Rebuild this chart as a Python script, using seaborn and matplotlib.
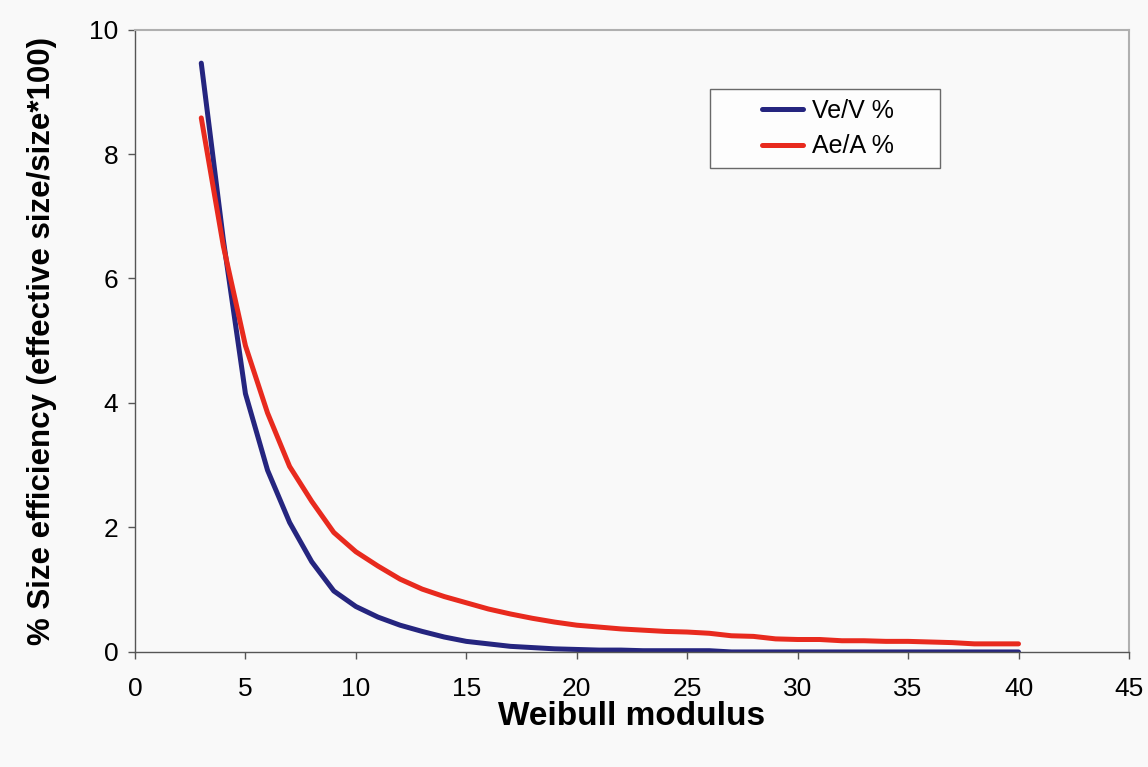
import matplotlib
matplotlib.use("Agg")
import matplotlib.pyplot as plt
import numpy as np
import pandas as pd
import seaborn as sns

# Weibull modulus values (x axis)
modulus = list(range(3, 41))

# Ve/V %
ve_v = [9.46, 6.62, 4.15, 2.92, 2.08, 1.45, 0.98, 0.73, 0.56, 0.43,
        0.33, 0.24, 0.17, 0.13, 0.09, 0.07, 0.05, 0.04, 0.03, 0.03,
        0.02, 0.02, 0.02, 0.02, 0.0, 0.0, 0.0, 0.0, 0.0, 0.0,
        0.0, 0.0, 0.0, 0.0, 0.0, 0.0, 0.0, 0.0]

# Ae/A %
ae_a = [8.58, 6.52, 4.92, 3.84, 2.98, 2.42, 1.92, 1.61, 1.38, 1.17,
        1.01, 0.89, 0.79, 0.69, 0.61, 0.54, 0.48, 0.43, 0.40, 0.37,
        0.35, 0.33, 0.32, 0.30, 0.26, 0.25, 0.21, 0.20, 0.20, 0.18,
        0.18, 0.17, 0.17, 0.16, 0.15, 0.13, 0.13, 0.13]

series_names = ["Ve/V %", "Ae/A %"]
colors = ["#25257f", "#e82a1e"]

df = pd.concat([
    pd.DataFrame({"m": modulus, "val": ve_v, "series": series_names[0]}),
    pd.DataFrame({"m": modulus, "val": ae_a, "series": series_names[1]}),
])

sns.set_style("white")
plt.rcParams["font.family"] = ["Liberation Sans", "DejaVu Sans"]
plt.rcParams["text.color"] = "black"
plt.rcParams["axes.labelcolor"] = "black"
plt.rcParams["xtick.color"] = "black"
plt.rcParams["ytick.color"] = "black"

fig = plt.figure(figsize=(11.48, 7.67), dpi=100)
fig.patch.set_facecolor("#f9f9f9")
ax = fig.add_axes([0.1176, 0.15, 0.8658, 0.8115])
ax.set_facecolor("#f9f9f9")

sns.lineplot(data=df, x="m", y="val", hue="series", palette=colors,
             linewidth=3.6, ax=ax, sort=False)

ax.set_xlim(0, 45)
ax.set_ylim(0, 10)
ax.set_xticks(np.arange(0, 46, 5))
ax.set_yticks(np.arange(0, 11, 2))

for side in ["left", "bottom"]:
    ax.spines[side].set_color("#555555")
    ax.spines[side].set_linewidth(1.0)
for side in ["top", "right"]:
    ax.spines[side].set_color("#b0b0b0")
    ax.spines[side].set_linewidth(1.5)

ax.tick_params(axis="x", direction="out", length=5, width=1, color="#555555",
               labelsize=19, pad=13, bottom=True)
ax.tick_params(axis="y", direction="out", length=5, width=1, color="#555555",
               labelsize=19, pad=7, left=True)

ax.set_xlabel("Weibull modulus", fontsize=24, fontweight="bold", labelpad=0)
ax.set_ylabel("% Size efficiency (effective size/size*100)", fontsize=22.5,
              fontweight="bold", labelpad=23)

# legend box stretched to the reference width
leg = ax.legend(loc="upper left", bbox_to_anchor=(0.5785, 0.80, 0.2314, 0.1044),
                mode="expand", borderaxespad=0, fontsize=18, frameon=True,
                fancybox=False, handlelength=3.32, handletextpad=0.36,
                borderpad=0.4, labelspacing=0.45, title=None)
leg.get_frame().set_edgecolor("#444444")
leg.get_frame().set_linewidth(1.0)
leg.get_frame().set_facecolor("white")
for line in leg.get_lines():
    line.set_linewidth(3.6)
    xd = np.asarray(line.get_xdata(), dtype=float)
    yd = np.asarray(line.get_ydata(), dtype=float)
    span = xd.max() - xd.min()
    line.set_xdata([xd.max() - span * 0.49, xd.max()])
    line.set_ydata([yd[0], yd[0]])

fig.savefig("out.png", dpi=100, facecolor=fig.get_facecolor())
